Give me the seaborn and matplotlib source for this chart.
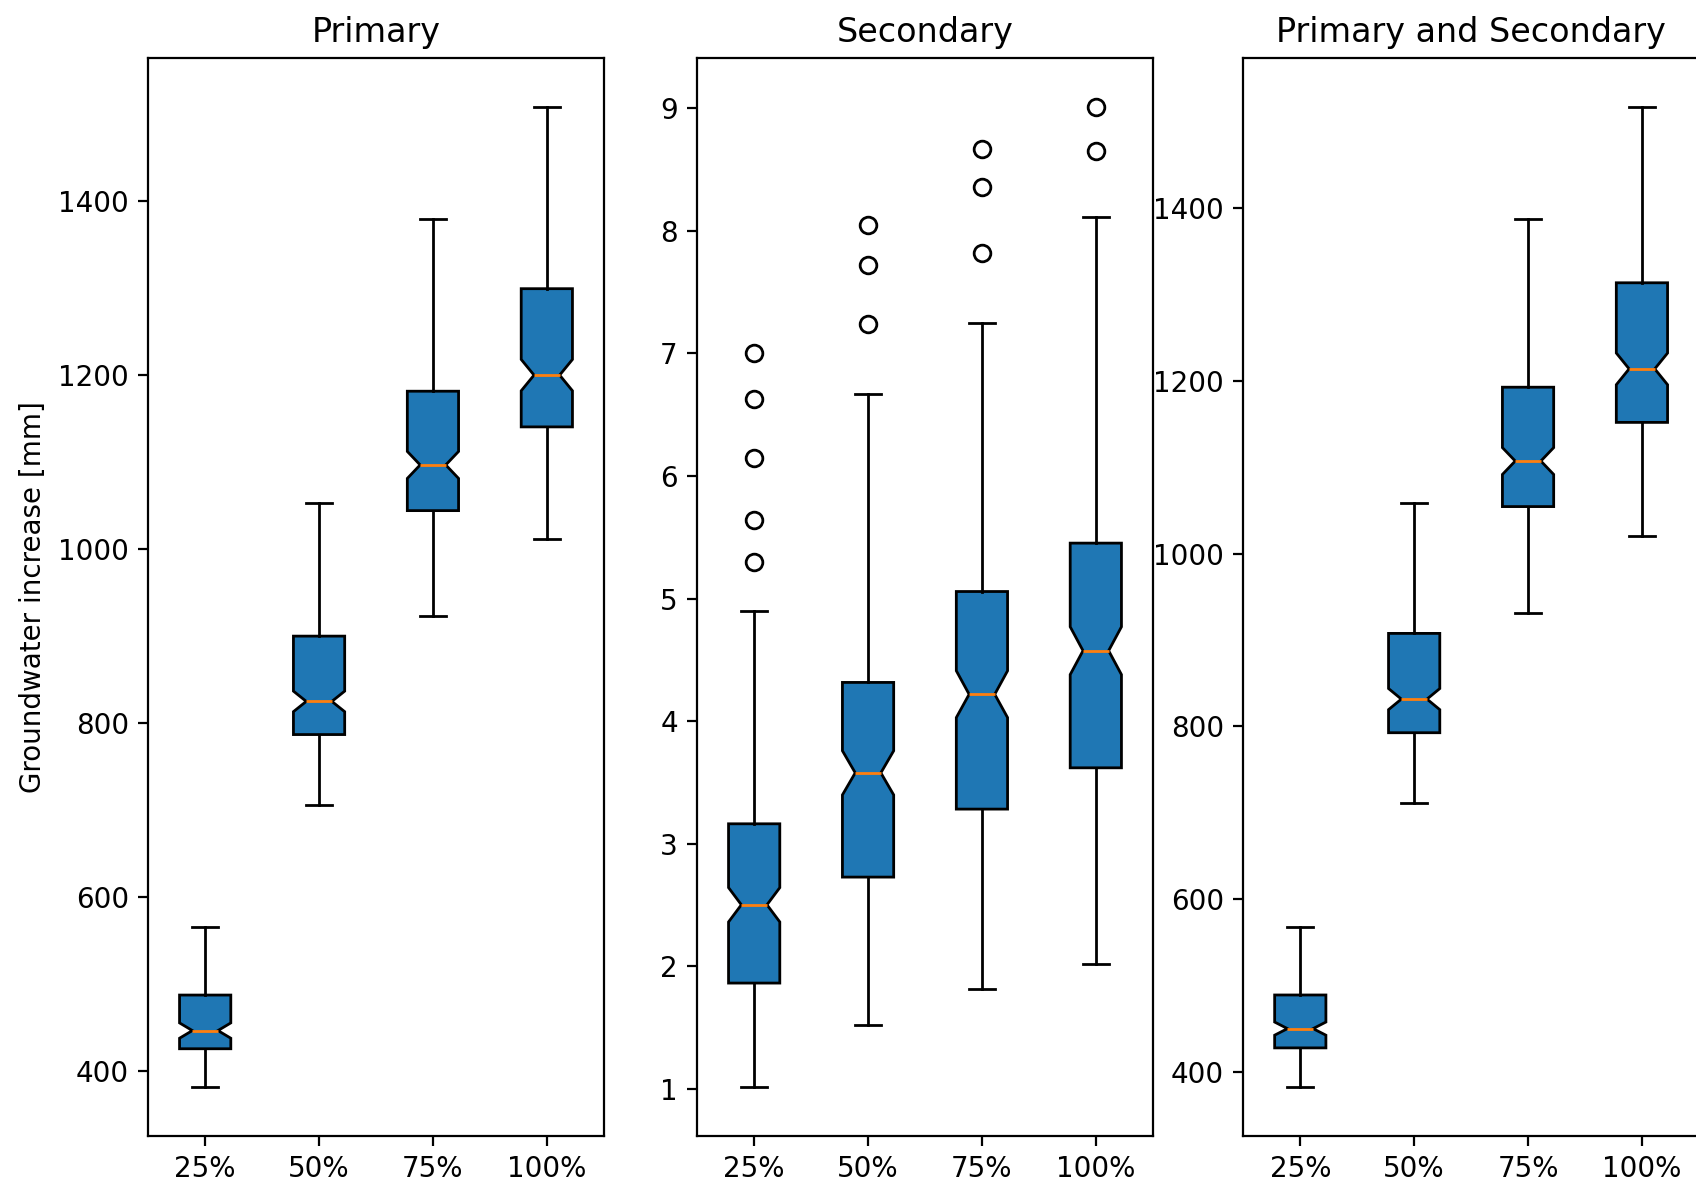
import matplotlib
matplotlib.use("Agg")
import matplotlib.pyplot as plt
import seaborn as sns

# Scenario levels on the x axis
levels = ["25%", "50%", "75%", "100%"]

# Primary: box summary per level
primary_whislo = [381.8, 706.0, 923.3, 1011.0]
primary_q1 = [425.7, 786.7, 1044.0, 1140.2]
primary_med = [446.6, 824.8, 1096.5, 1199.7]
primary_q3 = [487.4, 899.8, 1181.2, 1299.0]
primary_whishi = [565.4, 1052.5, 1379.0, 1507.5]
primary_cilo = [437.8, 813.0, 1081.0, 1181.7]
primary_cihi = [455.4, 836.6, 1112.0, 1217.7]
primary_fliers = [[], [], [], []]

# Secondary: box summary per level
secondary_whislo = [1.013, 1.52, 1.814, 2.013]
secondary_q1 = [1.861, 2.726, 3.281, 3.618]
secondary_med = [2.50, 3.577, 4.218, 4.574]
secondary_q3 = [3.161, 4.315, 5.057, 5.452]
secondary_whishi = [4.90, 6.667, 7.252, 8.115]
secondary_cilo = [2.36, 3.397, 4.028, 4.379]
secondary_cihi = [2.64, 3.757, 4.410, 4.769]
secondary_fliers = [
    [5.296, 5.639, 6.146, 6.632, 7.006],
    [7.237, 7.723, 8.05],
    [7.822, 8.361, 8.67],
    [8.654, 9.01],
]

# Primary and secondary combined: box summary per level
combined_whislo = [383.0, 712.0, 931.8, 1019.9]
combined_q1 = [428.2, 792.8, 1054.4, 1151.8]
combined_med = [450.5, 831.7, 1107.1, 1213.7]
combined_q3 = [489.4, 907.7, 1192.5, 1313.3]
combined_whishi = [568.0, 1058.4, 1387.2, 1516.4]
combined_cilo = [442.9, 819.5, 1091.6, 1195.4]
combined_cihi = [458.1, 843.9, 1122.6, 1232.0]
combined_fliers = [[], [], [], []]

titles = ["Primary", "Secondary", "Primary and Secondary"]
ylabel = "Groundwater increase [mm]"

palette = sns.color_palette("tab10")
box_color = palette[0]
median_color = palette[1]


def build_stats(whislo, q1, med, q3, whishi, cilo, cihi, fliers):
    stats = []
    for i, lab in enumerate(levels):
        stats.append({
            "label": lab,
            "whislo": whislo[i],
            "q1": q1[i],
            "med": med[i],
            "q3": q3[i],
            "whishi": whishi[i],
            "cilo": cilo[i],
            "cihi": cihi[i],
            "fliers": fliers[i],
        })
    return stats


panels = [
    build_stats(primary_whislo, primary_q1, primary_med, primary_q3,
                primary_whishi, primary_cilo, primary_cihi, primary_fliers),
    build_stats(secondary_whislo, secondary_q1, secondary_med, secondary_q3,
                secondary_whishi, secondary_cilo, secondary_cihi, secondary_fliers),
    build_stats(combined_whislo, combined_q1, combined_med, combined_q3,
                combined_whishi, combined_cilo, combined_cihi, combined_fliers),
]

fig = plt.figure(figsize=(8.48, 5.93), dpi=200)

lefts = [0.0874, 0.4111, 0.7331]
bottom, width, height = 0.0422, 0.2686, 0.9087

for i, stats in enumerate(panels):
    ax = fig.add_axes([lefts[i], bottom, width, height])
    ax.bxp(
        stats,
        shownotches=True,
        patch_artist=True,
        boxprops=dict(facecolor=box_color, edgecolor="black", linewidth=1.0),
        medianprops=dict(color=median_color, linewidth=1.0),
        whiskerprops=dict(color="black", linewidth=1.0),
        capprops=dict(color="black", linewidth=1.0),
        flierprops=dict(marker="o", markerfacecolor="none",
                        markeredgecolor="black", markersize=6),
    )
    ax.set_title(titles[i])
    if i == 0:
        ax.set_ylabel(ylabel)

fig.savefig("out.png", dpi=200)
